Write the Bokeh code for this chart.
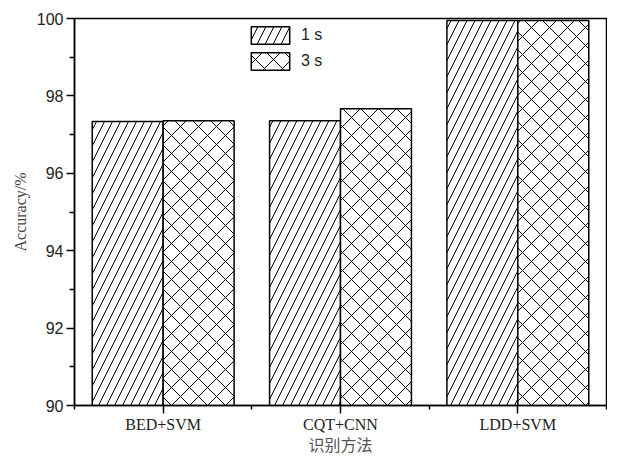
from bokeh.plotting import figure
from bokeh.models import ColumnDataSource, Range1d, FixedTicker, Legend, LegendItem
from bokeh.transform import dodge
from bokeh.embed import file_html
from bokeh.resources import INLINE

categories = ["BED+SVM", "CQT+CNN", "LDD+SVM"]
acc_1s = [97.34, 97.36, 99.95]
acc_3s = [97.36, 97.67, 99.95]
series_names = ["1 s", "3 s"]
y_ticks = [90, 92, 94, 96, 98, 100]
y_minor = [91, 93, 95, 97, 99]

pos = list(range(len(categories)))
src = ColumnDataSource(dict(x=pos, v1=acc_1s, v3=acc_3s))

p = figure(width=607, height=458, output_backend="svg", toolbar_location=None,
           x_range=Range1d(-0.5, len(categories) - 0.5), y_range=Range1d(90, 100),
           min_border_left=74, min_border_right=1, min_border_top=18, min_border_bottom=40)

r1 = p.vbar(x=dodge("x", -0.2), top="v1", bottom=90, width=0.4, source=src,
            fill_color="white", line_color="black", line_width=1.5,
            hatch_pattern="/", hatch_scale=16, hatch_color="black", hatch_weight=1)
r3 = p.vbar(x=dodge("x", 0.2), top="v3", bottom=90, width=0.4, source=src,
            fill_color="white", line_color="black", line_width=1.5,
            hatch_pattern="x", hatch_scale=18, hatch_color="black", hatch_weight=1)

p.grid.visible = False
p.outline_line_color = "black"
p.outline_line_width = 1.5
p.background_fill_color = "white"
p.border_fill_color = "white"

xa = p.xaxis[0]
xa.ticker = FixedTicker(ticks=pos, minor_ticks=[i - 0.5 for i in range(len(categories) + 1)])
xa.major_label_overrides = {i: c for i, c in enumerate(categories)}
xa.major_label_text_font = "Liberation Serif"
xa.major_label_text_font_size = "16px"
xa.major_label_text_color = "#222222"
xa.major_tick_out = 8
xa.major_tick_in = 0
xa.minor_tick_out = 4
xa.minor_tick_in = 0
xa.major_label_standoff = 2
xa.axis_line_width = 1.5
xa.major_tick_line_width = 1.5
xa.minor_tick_line_width = 1.5
xa.axis_label = "识别方法"
xa.axis_label_text_font = "Noto Sans CJK SC"
xa.axis_label_text_font_size = "16px"
xa.axis_label_text_font_style = "normal"
xa.axis_label_text_color = "#555555"
xa.axis_label_standoff = -4

ya = p.yaxis[0]
ya.ticker = FixedTicker(ticks=y_ticks, minor_ticks=y_minor)
ya.major_label_text_font = "Liberation Sans"
ya.major_label_text_font_size = "16px"
ya.major_label_text_color = "#222222"
ya.major_tick_out = 8
ya.major_tick_in = 0
ya.minor_tick_out = 5
ya.minor_tick_in = 0
ya.major_label_standoff = 3
ya.axis_line_width = 1.5
ya.major_tick_line_width = 1.5
ya.minor_tick_line_width = 1.5
ya.axis_label = "Accuracy/%"
ya.axis_label_text_font = "Liberation Serif"
ya.axis_label_text_font_size = "16px"
ya.axis_label_text_font_style = "normal"
ya.axis_label_text_color = "#444444"
ya.axis_label_standoff = 5

legend = Legend(items=[LegendItem(label=series_names[0], renderers=[r1]),
                       LegendItem(label=series_names[1], renderers=[r3])],
                location=(172, 333), orientation="vertical")
legend.glyph_width = 48
legend.glyph_height = 22
legend.spacing = 4
legend.padding = 0
legend.margin = 0
legend.label_standoff = 7
legend.label_text_font = "Liberation Sans"
legend.label_text_font_size = "16px"
legend.label_text_color = "#222222"
legend.border_line_color = None
legend.background_fill_alpha = 0
p.add_layout(legend, "center")

open("out.html", "w").write(file_html(p, INLINE))
